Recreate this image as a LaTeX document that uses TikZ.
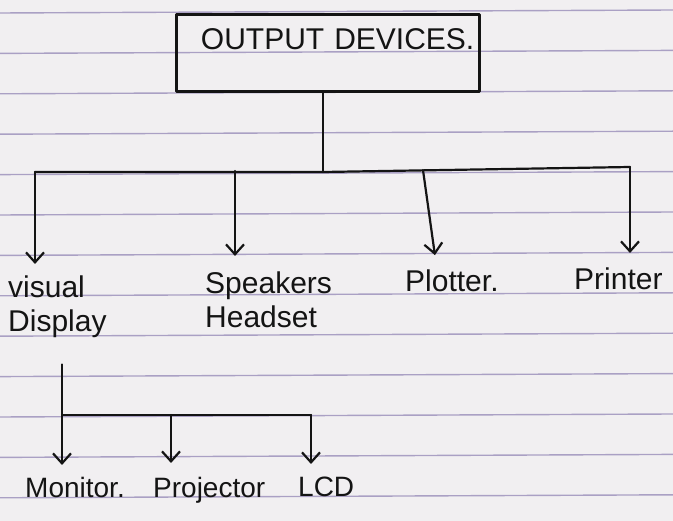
\documentclass[tikz,border=0pt]{standalone}
\usepackage{fontspec}
\setmainfont{Liberation Sans}
\usetikzlibrary{arrows.meta,calc,positioning}

\definecolor{paper}{HTML}{F1EFF1}
\definecolor{ruling}{HTML}{8E80B0}
\definecolor{ink}{HTML}{141414}

\begin{document}
\begin{tikzpicture}[
  x=1pt, y=-1pt,
  line cap=round,
  line join=round,
  font=\fontsize{30}{34}\selectfont,
  inkline/.style={draw=ink, line width=2.2pt},
  arr/.style={inkline, -{Straight Barb[length=10pt,width=18pt]}},
  topbox/.style={draw=ink, line width=2.6pt, inner ysep=0pt, inner xsep=5pt, text width=293pt, align=right, text height=35pt, text depth=42pt, text=ink},
  lbl/.style={inner sep=0pt, align=left, text=ink},
  sublbl/.style={lbl, font=\fontsize{28}{32}\selectfont}
]
\useasboundingbox (0,0) rectangle (673,521);

% Lined paper.
\fill[paper] (0,0) rectangle (673,521);
\foreach \k in {0,...,12}{
  \draw[ruling!75, line width=1.4pt] (0,{13+40.4*\k}) -- (673,{10+40.4*\k});
}

% Root and device labels.
\node[topbox, anchor=north west] (out) at (175,13) {OUTPUT DEVICES.};

\node[lbl, anchor=north west] (vis) at (8,276) {visual\\Display};
\node[lbl, anchor=north west] (spk) at (205,272) {Speakers\\Headset};
\node[lbl, anchor=north west] (plt) at (405,270) {Plotter.};
\node[lbl, anchor=north west] (prn) at (574,268) {Printer};

\node[sublbl, anchor=north west] (mon) at (25,477) {Monitor.};
\node[sublbl, anchor=north west] (prj) at (153,477) {Projector};
\node[sublbl, anchor=north west] (lcd) at (298,477) {LCD};

% Main branching.
\coordinate (hub) at (323,172);
\coordinate (busL) at (35,172);
\coordinate (busS) at (235,171);
\coordinate (busP) at (423,170);
\coordinate (busR) at (630,167);

\draw[inkline] (out.south -| hub) -- (hub);
\draw[inkline] (busL) -- (hub) -- (busR);

\draw[arr, shorten >=12pt] (busL) -- (busL |- vis.north);
\draw[arr, shorten >=16pt] (busS) -- (busS |- spk.north);
\draw[arr, shorten >=15pt] (busP) -- ([xshift=32pt]plt.north west);
\draw[arr, shorten >=15pt] (busR) -- (busR |- prn.north);

% Visual display branching.
\coordinate (sub) at (62,415);
\coordinate (subP) at (171,415);
\coordinate (subR) at (311,415);

\draw[inkline, shorten <=26pt] (vis.south -| sub) -- (sub) -- (subR);
\draw[arr, shorten >=12pt] (sub) -- (sub |- mon.north);
\draw[arr, shorten >=14pt] (subP) -- (subP |- prj.north);
\draw[arr, shorten >=13pt] (subR) -- (subR |- lcd.north);

\end{tikzpicture}
\end{document}
